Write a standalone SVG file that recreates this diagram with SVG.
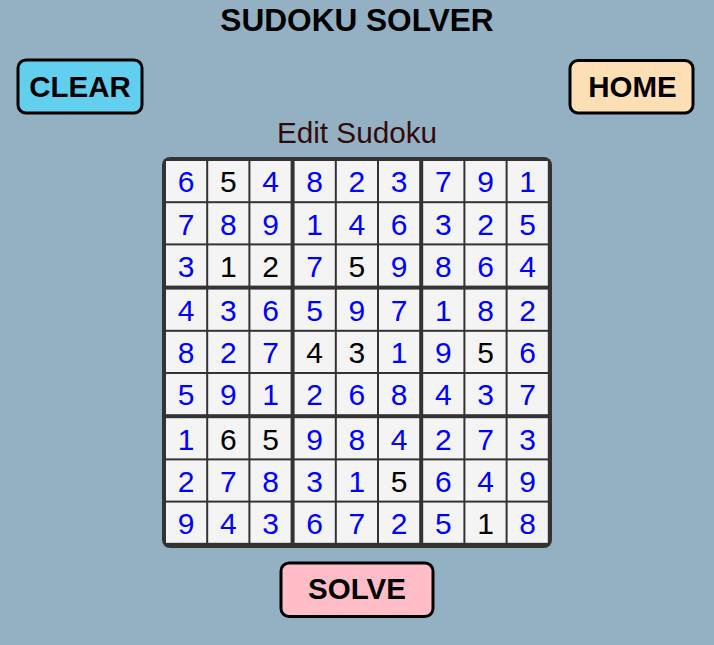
<svg xmlns="http://www.w3.org/2000/svg" width="714" height="645" viewBox="0 0 714 645">
<style>
.t{font-family:"Liberation Sans",Arial,sans-serif;text-anchor:middle}
.btn{stroke:#000;stroke-width:3}
.bl{font-family:"Liberation Sans",Arial,sans-serif;font-weight:bold;font-size:29.5px;text-anchor:middle;fill:#000}
.c{fill:#f4f4f4}
.d{font-family:"Liberation Sans",Arial,sans-serif;font-size:30px;text-anchor:middle;fill:#0000ff}
.g{fill:#000}
</style>
<rect x="0" y="0" width="714" height="645" fill="#93b1c2"/>
<text id="title" class="t" x="357" y="30.5" font-size="31.6" font-weight="bold" fill="#000">SUDOKU SOLVER</text>
<g id="clear"><rect class="btn" x="18" y="60" width="124" height="53" rx="8" fill="#62cfee"/><text class="bl" x="80" y="97">CLEAR</text></g>
<g id="home"><rect class="btn" x="570" y="60.5" width="123" height="52.5" rx="8" fill="#fcdfb5"/><text class="bl" x="632.5" y="97">HOME</text></g>
<text id="subtitle" class="t" x="357" y="143" font-size="29.7" fill="#330a0a">Edit Sudoku</text>
<g id="grid">
<rect x="162" y="157" width="390" height="391" rx="8" fill="#333"/>
<g id="cells">
<rect class="c" x="166" y="161" width="40.2" height="40.2"/><rect class="c" x="208.2" y="161" width="40.2" height="40.2"/><rect class="c" x="250.4" y="161" width="40.2" height="40.2"/><rect class="c" x="294.6" y="161" width="40.2" height="40.2"/><rect class="c" x="336.8" y="161" width="40.2" height="40.2"/><rect class="c" x="379" y="161" width="40.2" height="40.2"/><rect class="c" x="423.2" y="161" width="40.2" height="40.2"/><rect class="c" x="465.4" y="161" width="40.2" height="40.2"/><rect class="c" x="507.6" y="161" width="40.2" height="40.2"/>
<rect class="c" x="166" y="203.2" width="40.2" height="40.2"/><rect class="c" x="208.2" y="203.2" width="40.2" height="40.2"/><rect class="c" x="250.4" y="203.2" width="40.2" height="40.2"/><rect class="c" x="294.6" y="203.2" width="40.2" height="40.2"/><rect class="c" x="336.8" y="203.2" width="40.2" height="40.2"/><rect class="c" x="379" y="203.2" width="40.2" height="40.2"/><rect class="c" x="423.2" y="203.2" width="40.2" height="40.2"/><rect class="c" x="465.4" y="203.2" width="40.2" height="40.2"/><rect class="c" x="507.6" y="203.2" width="40.2" height="40.2"/>
<rect class="c" x="166" y="245.4" width="40.2" height="40.2"/><rect class="c" x="208.2" y="245.4" width="40.2" height="40.2"/><rect class="c" x="250.4" y="245.4" width="40.2" height="40.2"/><rect class="c" x="294.6" y="245.4" width="40.2" height="40.2"/><rect class="c" x="336.8" y="245.4" width="40.2" height="40.2"/><rect class="c" x="379" y="245.4" width="40.2" height="40.2"/><rect class="c" x="423.2" y="245.4" width="40.2" height="40.2"/><rect class="c" x="465.4" y="245.4" width="40.2" height="40.2"/><rect class="c" x="507.6" y="245.4" width="40.2" height="40.2"/>
<rect class="c" x="166" y="289.6" width="40.2" height="40.2"/><rect class="c" x="208.2" y="289.6" width="40.2" height="40.2"/><rect class="c" x="250.4" y="289.6" width="40.2" height="40.2"/><rect class="c" x="294.6" y="289.6" width="40.2" height="40.2"/><rect class="c" x="336.8" y="289.6" width="40.2" height="40.2"/><rect class="c" x="379" y="289.6" width="40.2" height="40.2"/><rect class="c" x="423.2" y="289.6" width="40.2" height="40.2"/><rect class="c" x="465.4" y="289.6" width="40.2" height="40.2"/><rect class="c" x="507.6" y="289.6" width="40.2" height="40.2"/>
<rect class="c" x="166" y="331.8" width="40.2" height="40.2"/><rect class="c" x="208.2" y="331.8" width="40.2" height="40.2"/><rect class="c" x="250.4" y="331.8" width="40.2" height="40.2"/><rect class="c" x="294.6" y="331.8" width="40.2" height="40.2"/><rect class="c" x="336.8" y="331.8" width="40.2" height="40.2"/><rect class="c" x="379" y="331.8" width="40.2" height="40.2"/><rect class="c" x="423.2" y="331.8" width="40.2" height="40.2"/><rect class="c" x="465.4" y="331.8" width="40.2" height="40.2"/><rect class="c" x="507.6" y="331.8" width="40.2" height="40.2"/>
<rect class="c" x="166" y="374" width="40.2" height="40.2"/><rect class="c" x="208.2" y="374" width="40.2" height="40.2"/><rect class="c" x="250.4" y="374" width="40.2" height="40.2"/><rect class="c" x="294.6" y="374" width="40.2" height="40.2"/><rect class="c" x="336.8" y="374" width="40.2" height="40.2"/><rect class="c" x="379" y="374" width="40.2" height="40.2"/><rect class="c" x="423.2" y="374" width="40.2" height="40.2"/><rect class="c" x="465.4" y="374" width="40.2" height="40.2"/><rect class="c" x="507.6" y="374" width="40.2" height="40.2"/>
<rect class="c" x="166" y="418.2" width="40.2" height="40.2"/><rect class="c" x="208.2" y="418.2" width="40.2" height="40.2"/><rect class="c" x="250.4" y="418.2" width="40.2" height="40.2"/><rect class="c" x="294.6" y="418.2" width="40.2" height="40.2"/><rect class="c" x="336.8" y="418.2" width="40.2" height="40.2"/><rect class="c" x="379" y="418.2" width="40.2" height="40.2"/><rect class="c" x="423.2" y="418.2" width="40.2" height="40.2"/><rect class="c" x="465.4" y="418.2" width="40.2" height="40.2"/><rect class="c" x="507.6" y="418.2" width="40.2" height="40.2"/>
<rect class="c" x="166" y="460.4" width="40.2" height="40.2"/><rect class="c" x="208.2" y="460.4" width="40.2" height="40.2"/><rect class="c" x="250.4" y="460.4" width="40.2" height="40.2"/><rect class="c" x="294.6" y="460.4" width="40.2" height="40.2"/><rect class="c" x="336.8" y="460.4" width="40.2" height="40.2"/><rect class="c" x="379" y="460.4" width="40.2" height="40.2"/><rect class="c" x="423.2" y="460.4" width="40.2" height="40.2"/><rect class="c" x="465.4" y="460.4" width="40.2" height="40.2"/><rect class="c" x="507.6" y="460.4" width="40.2" height="40.2"/>
<rect class="c" x="166" y="502.6" width="40.2" height="40.2"/><rect class="c" x="208.2" y="502.6" width="40.2" height="40.2"/><rect class="c" x="250.4" y="502.6" width="40.2" height="40.2"/><rect class="c" x="294.6" y="502.6" width="40.2" height="40.2"/><rect class="c" x="336.8" y="502.6" width="40.2" height="40.2"/><rect class="c" x="379" y="502.6" width="40.2" height="40.2"/><rect class="c" x="423.2" y="502.6" width="40.2" height="40.2"/><rect class="c" x="465.4" y="502.6" width="40.2" height="40.2"/><rect class="c" x="507.6" y="502.6" width="40.2" height="40.2"/>
</g>
<g id="digits" class="d">
<text x="186.1" y="192.4">6</text><text class="g" x="228.3" y="192.4">5</text><text x="270.5" y="192.4">4</text><text x="314.7" y="192.4">8</text><text x="356.9" y="192.4">2</text><text x="399.1" y="192.4">3</text><text x="443.3" y="192.4">7</text><text x="485.5" y="192.4">9</text><text x="527.7" y="192.4">1</text>
<text x="186.1" y="234.6">7</text><text x="228.3" y="234.6">8</text><text x="270.5" y="234.6">9</text><text x="314.7" y="234.6">1</text><text x="356.9" y="234.6">4</text><text x="399.1" y="234.6">6</text><text x="443.3" y="234.6">3</text><text x="485.5" y="234.6">2</text><text x="527.7" y="234.6">5</text>
<text x="186.1" y="276.8">3</text><text class="g" x="228.3" y="276.8">1</text><text class="g" x="270.5" y="276.8">2</text><text x="314.7" y="276.8">7</text><text class="g" x="356.9" y="276.8">5</text><text x="399.1" y="276.8">9</text><text x="443.3" y="276.8">8</text><text x="485.5" y="276.8">6</text><text x="527.7" y="276.8">4</text>
<text x="186.1" y="321">4</text><text x="228.3" y="321">3</text><text x="270.5" y="321">6</text><text x="314.7" y="321">5</text><text x="356.9" y="321">9</text><text x="399.1" y="321">7</text><text x="443.3" y="321">1</text><text x="485.5" y="321">8</text><text x="527.7" y="321">2</text>
<text x="186.1" y="363.2">8</text><text x="228.3" y="363.2">2</text><text x="270.5" y="363.2">7</text><text class="g" x="314.7" y="363.2">4</text><text class="g" x="356.9" y="363.2">3</text><text x="399.1" y="363.2">1</text><text x="443.3" y="363.2">9</text><text class="g" x="485.5" y="363.2">5</text><text x="527.7" y="363.2">6</text>
<text x="186.1" y="405.4">5</text><text x="228.3" y="405.4">9</text><text x="270.5" y="405.4">1</text><text x="314.7" y="405.4">2</text><text x="356.9" y="405.4">6</text><text x="399.1" y="405.4">8</text><text x="443.3" y="405.4">4</text><text x="485.5" y="405.4">3</text><text x="527.7" y="405.4">7</text>
<text x="186.1" y="449.6">1</text><text class="g" x="228.3" y="449.6">6</text><text class="g" x="270.5" y="449.6">5</text><text x="314.7" y="449.6">9</text><text x="356.9" y="449.6">8</text><text x="399.1" y="449.6">4</text><text x="443.3" y="449.6">2</text><text x="485.5" y="449.6">7</text><text x="527.7" y="449.6">3</text>
<text x="186.1" y="491.8">2</text><text x="228.3" y="491.8">7</text><text x="270.5" y="491.8">8</text><text x="314.7" y="491.8">3</text><text x="356.9" y="491.8">1</text><text class="g" x="399.1" y="491.8">5</text><text x="443.3" y="491.8">6</text><text x="485.5" y="491.8">4</text><text x="527.7" y="491.8">9</text>
<text x="186.1" y="534">9</text><text x="228.3" y="534">4</text><text x="270.5" y="534">3</text><text x="314.7" y="534">6</text><text x="356.9" y="534">7</text><text x="399.1" y="534">2</text><text x="443.3" y="534">5</text><text class="g" x="485.5" y="534">1</text><text x="527.7" y="534">8</text>
</g>
</g>
<g id="solve"><rect class="btn" x="281" y="563" width="152" height="53.5" rx="8" fill="#ffbdc8"/><text class="bl" x="357" y="598.5">SOLVE</text></g>
</svg>
